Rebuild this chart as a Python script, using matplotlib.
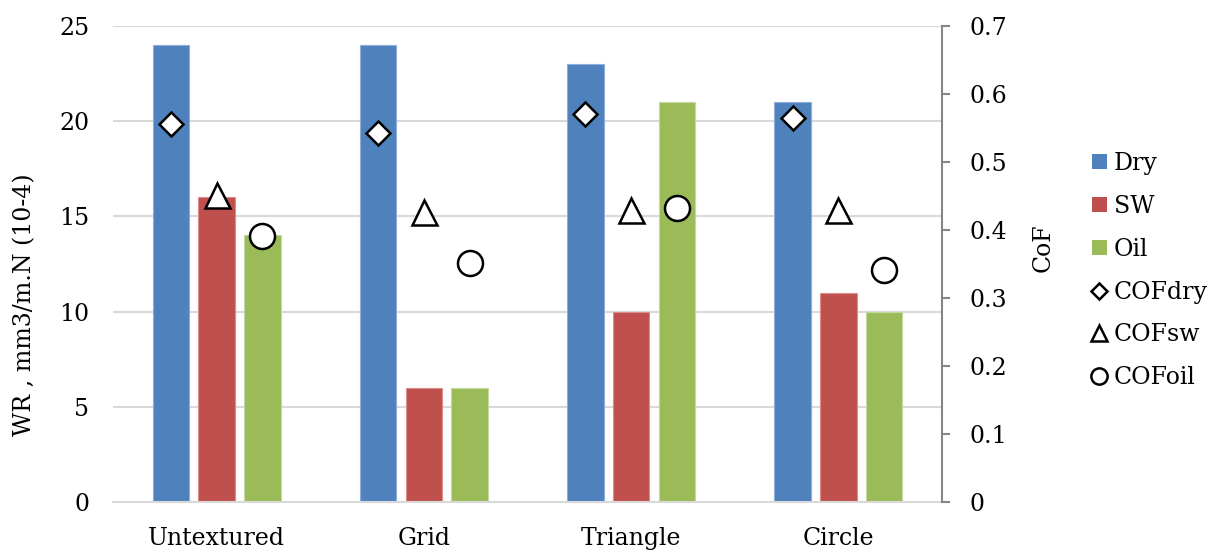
import numpy as np
import matplotlib.pyplot as plt
from matplotlib.patches import Patch
from matplotlib.lines import Line2D

plt.rcParams['font.family'] = 'DejaVu Serif'
plt.rcParams['font.size'] = 17

surfaces = ["Untextured", "Grid", "Triangle", "Circle"]
wr_dry = [24, 24, 23, 21]
wr_sw = [16, 6, 10, 11]
wr_oil = [14, 6, 21, 10]
cof_dry = [0.556, 0.542, 0.571, 0.564]
cof_sw = [0.451, 0.427, 0.429, 0.430]
cof_oil = [0.391, 0.352, 0.432, 0.341]

c_dry, c_sw, c_oil = "#4F81BD", "#C0504D", "#9BBB59"

fig = plt.figure(figsize=(12.07, 5.5), dpi=100)
ax = fig.add_axes([0.0936, 0.0873, 0.6869, 0.8654])
ax2 = ax.twinx()

x = np.arange(len(surfaces))
w = 0.176
off = 0.221

ax.set_axisbelow(True)
ax.bar(x - off, wr_dry, w, color=c_dry, edgecolor="#8DAEDB", linewidth=0.8, zorder=2)
ax.bar(x, wr_sw, w, color=c_sw, edgecolor="#DB8C8A", linewidth=0.8, zorder=2)
ax.bar(x + off, wr_oil, w, color=c_oil, edgecolor="#C4D9A0", linewidth=0.8, zorder=2)

mk = dict(linestyle="none", markerfacecolor="white", markeredgecolor="black",
          markeredgewidth=1.8, zorder=5)
ax2.plot(x - off, cof_dry, marker="D", markersize=12.5, **mk)
ax2.plot(x, cof_sw, marker="^", markersize=18, **mk)
ax2.plot(x + off, cof_oil, marker="o", markersize=18, **mk)

ax.set_xlim(-0.5, 3.5)
ax.set_ylim(0, 25)
ax.set_yticks(np.arange(0, 26, 5))
ax2.set_ylim(0, 0.7)
ax2.set_yticks(np.round(np.arange(0, 0.71, 0.1), 1))
ax2.set_yticklabels(["0", "0.1", "0.2", "0.3", "0.4", "0.5", "0.6", "0.7"])

ax.set_xticks(x)
ax.set_xticklabels(surfaces)
ax.yaxis.grid(True, color="#D9D9D9", linewidth=1.5)
ax.tick_params(axis="y", length=0, pad=17)
ax.tick_params(axis="x", length=0, pad=18)
ax2.tick_params(axis="y", length=6, width=1.5, color="#868686", pad=13.5)

for s in ["top", "left", "right"]:
    ax.spines[s].set_visible(False)
ax.spines["bottom"].set_color("#D9D9D9")
ax.spines["bottom"].set_linewidth(1.5)
for s in ["top", "left", "bottom"]:
    ax2.spines[s].set_visible(False)
ax2.spines["right"].set_color("#868686")
ax2.spines["right"].set_linewidth(1.5)

fig.text(0.0203, 0.446, "WR , mm3/m.N (10-4)", rotation=90, ha="center", va="center")
fig.text(0.864, 0.549, "CoF", rotation=90, ha="center", va="center")

handles = [
    Patch(facecolor=c_dry),
    Patch(facecolor=c_sw),
    Patch(facecolor=c_oil),
    Line2D([], [], marker="D", markersize=12.5, **mk),
    Line2D([], [], marker="^", markersize=18, **mk),
    Line2D([], [], marker="o", markersize=18, **mk),
]
labels = ["Dry", "SW", "Oil", "COFdry", "COFsw", "COFoil"]
fig.legend(handles, labels, loc="center left", bbox_to_anchor=(0.9047, 0.508),
           frameon=False, borderpad=0, borderaxespad=0, handlelength=0.62,
           handleheight=0.62, handletextpad=0.3, labelspacing=0.84,
           markerscale=0.65)

fig.savefig("out.png", dpi=100)
